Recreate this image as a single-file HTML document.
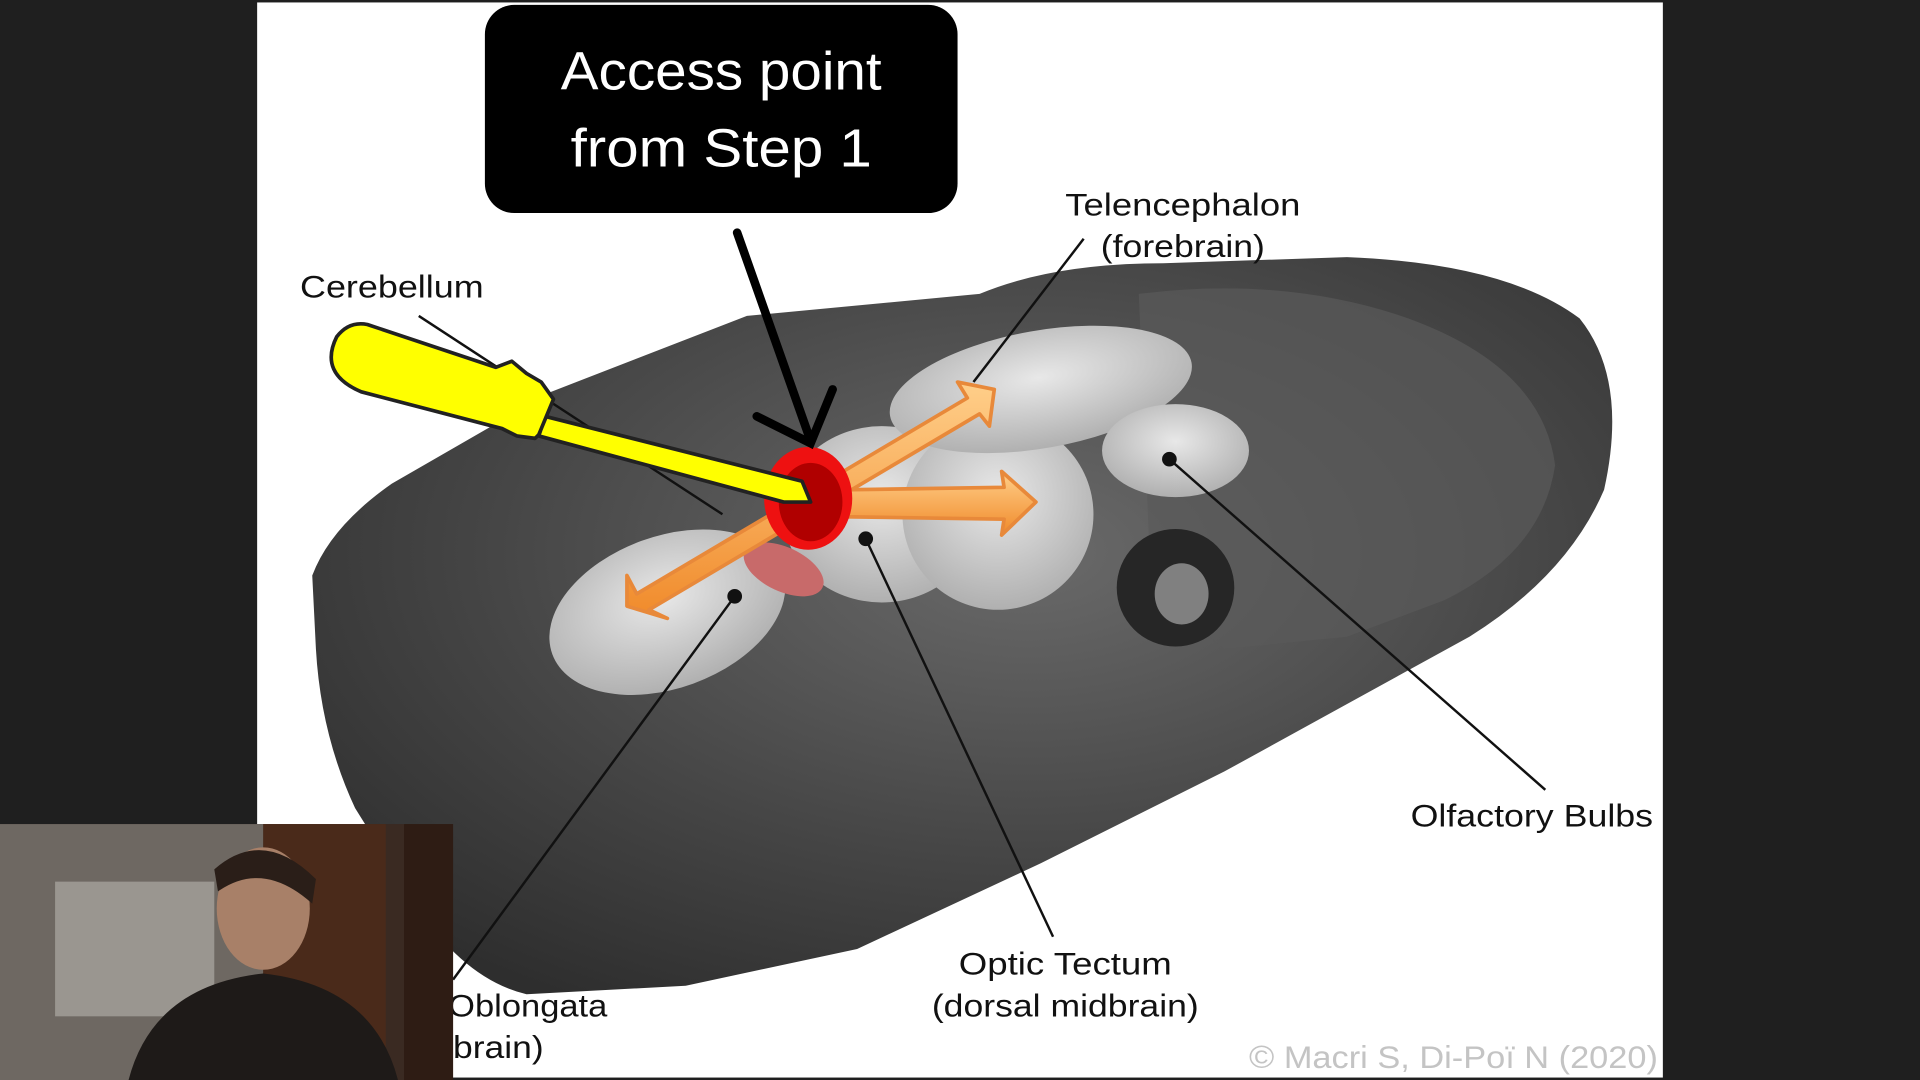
<!DOCTYPE html>
<html><head><meta charset="utf-8"><style>
html,body{margin:0;padding:0;background:#1f1f1f;overflow:hidden}
svg{display:block}
text{font-family:"Liberation Sans",sans-serif}
</style></head><body>
<svg width="1920" height="1080" viewBox="0 0 1568 882" preserveAspectRatio="none" xmlns="http://www.w3.org/2000/svg">
<defs>
<radialGradient id="hg" cx="0.55" cy="0.4" r="0.7">
<stop offset="0" stop-color="#6a6a6a"/><stop offset="0.6" stop-color="#454545"/><stop offset="1" stop-color="#2e2e2e"/>
</radialGradient>
<radialGradient id="bg" cx="0.5" cy="0.4" r="0.6">
<stop offset="0" stop-color="#e8e8e8"/><stop offset="1" stop-color="#b0b0b0"/>
</radialGradient>
<linearGradient id="og" x1="0" y1="0" x2="0" y2="1"><stop offset="0" stop-color="#ffcf8a"/><stop offset="1" stop-color="#f08a2a"/></linearGradient>
</defs>
<rect width="1568" height="882" fill="#1f1f1f"/>
<rect x="210" y="2" width="1148" height="878" fill="#ffffff"/>
<!-- head -->
<path d="M255,470 Q270,430 320,395 L450,320 L610,258 L800,240 Q860,215 950,215 L1100,210 Q1230,215 1290,260 Q1330,310 1310,400 Q1280,470 1200,520 L1000,630 L850,705 L700,775 L560,805 L430,812 Q380,800 340,740 L290,660 Q262,600 258,530 Z" fill="url(#hg)"/>
<path d="M930,240 Q1050,225 1150,260 Q1260,300 1270,380 Q1260,450 1180,490 L1100,520 L1000,530 L940,480 Z" fill="#5a5a5a" opacity="0.7"/>
<!-- brain -->
<ellipse cx="545" cy="500" rx="100" ry="62" fill="url(#bg)" transform="rotate(-20 545 500)"/>
<ellipse cx="720" cy="420" rx="80" ry="72" fill="url(#bg)"/>
<ellipse cx="815" cy="420" rx="78" ry="78" fill="url(#bg)"/>
<ellipse cx="850" cy="318" rx="125" ry="48" fill="url(#bg)" transform="rotate(-10 850 318)"/>
<ellipse cx="960" cy="368" rx="60" ry="38" fill="url(#bg)"/>
<ellipse cx="960" cy="480" rx="48" ry="48" fill="#262626"/>
<ellipse cx="965" cy="485" rx="22" ry="25" fill="#808080"/>
<ellipse cx="640" cy="465" rx="35" ry="18" fill="#c86a6a" transform="rotate(25 640 465)"/>
<!-- leader lines -->
<g stroke="#111" stroke-width="2" fill="none">
<line x1="342" y1="258" x2="590" y2="420"/>
<line x1="885" y1="195" x2="795" y2="312"/>
<line x1="955" y1="375" x2="1262" y2="645"/>
<line x1="707" y1="440" x2="860" y2="765"/>
<line x1="600" y1="487" x2="370" y2="800"/>
</g>
<g fill="#111"><circle cx="955" cy="375" r="6"/><circle cx="707" cy="440" r="6"/><circle cx="600" cy="487" r="6"/></g>
<!-- orange arrows -->
<g stroke="#e8893a" stroke-width="3" fill="url(#og)" stroke-linejoin="round">
<polygon points="520,485 790,325 782,312 812,318 808,348 800,338 530,498 545,505 512,495 512,470 520,485"/>
<polygon points="690,400 820,398 818,385 846,410 818,437 820,424 690,422"/>
</g>
<!-- red circle -->
<ellipse cx="660" cy="407" rx="36" ry="42" fill="#ee1111"/>
<ellipse cx="662" cy="410" rx="26" ry="32" fill="#b00000"/>
<!-- screwdriver -->
<g fill="#ffff00" stroke="#222" stroke-width="3" stroke-linejoin="round">
<path d="M445,340 L655,393 L662,410 L640,410 L440,356 Z"/>
<path d="M300,265 L405,300 L418,295 L430,305 L442,312 L452,326 L440,355 L437,358 L422,356 L410,350 L295,320 Q260,305 275,275 Q285,262 300,265 Z"/>
</g>
<!-- black arrow -->
<g stroke="#000" stroke-width="7" fill="none" stroke-linecap="round">
<line x1="602" y1="190" x2="662" y2="360"/>
<polyline points="618,340 662,362 680,318"/>
</g>
<!-- callout -->
<rect x="396" y="4" width="386" height="170" rx="24" fill="#000"/>
<text x="589" y="73" font-size="44" fill="#fff" text-anchor="middle" textLength="262" lengthAdjust="spacingAndGlyphs">Access point</text>
<text x="589" y="136" font-size="44" fill="#fff" text-anchor="middle" textLength="246" lengthAdjust="spacingAndGlyphs">from Step 1</text>
<!-- labels -->
<g font-size="26" fill="#111" lengthAdjust="spacingAndGlyphs">
<text x="245" y="243" textLength="150" lengthAdjust="spacingAndGlyphs">Cerebellum</text>
<text x="870" y="176" textLength="192" lengthAdjust="spacingAndGlyphs">Telencephalon</text>
<text x="899" y="210" textLength="134" lengthAdjust="spacingAndGlyphs">(forebrain)</text>
<text x="1152" y="675" textLength="198" lengthAdjust="spacingAndGlyphs">Olfactory Bulbs</text>
<text x="783" y="796" textLength="174" lengthAdjust="spacingAndGlyphs">Optic Tectum</text>
<text x="761" y="830" textLength="218" lengthAdjust="spacingAndGlyphs">(dorsal midbrain)</text>
<text x="366" y="830" textLength="130" lengthAdjust="spacingAndGlyphs">Oblongata</text>
<text x="370" y="864" textLength="74" lengthAdjust="spacingAndGlyphs">brain)</text>
</g>
<text x="1020" y="872" font-size="26" fill="#c4c4c4" textLength="334" lengthAdjust="spacingAndGlyphs">© Macri S, Di-Poï N (2020)</text>
<!-- webcam -->
<rect x="0" y="673" width="370" height="209" fill="#3a2a22"/>
<rect x="0" y="673" width="215" height="209" fill="#6e6862"/>
<rect x="215" y="673" width="100" height="209" fill="#4a2a1a"/>
<rect x="330" y="673" width="40" height="209" fill="#2e1c14"/>
<rect x="45" y="720" width="130" height="110" fill="#9a9690"/>
<ellipse cx="215" cy="742" rx="38" ry="50" fill="#a88068"/>
<path d="M175,710 Q215,675 258,718 L255,738 Q215,702 178,728 Z" fill="#2a1e18"/>
<path d="M105,882 Q125,805 215,795 Q305,805 325,882 Z" fill="#1e1a18"/>
</svg>
</body></html>
